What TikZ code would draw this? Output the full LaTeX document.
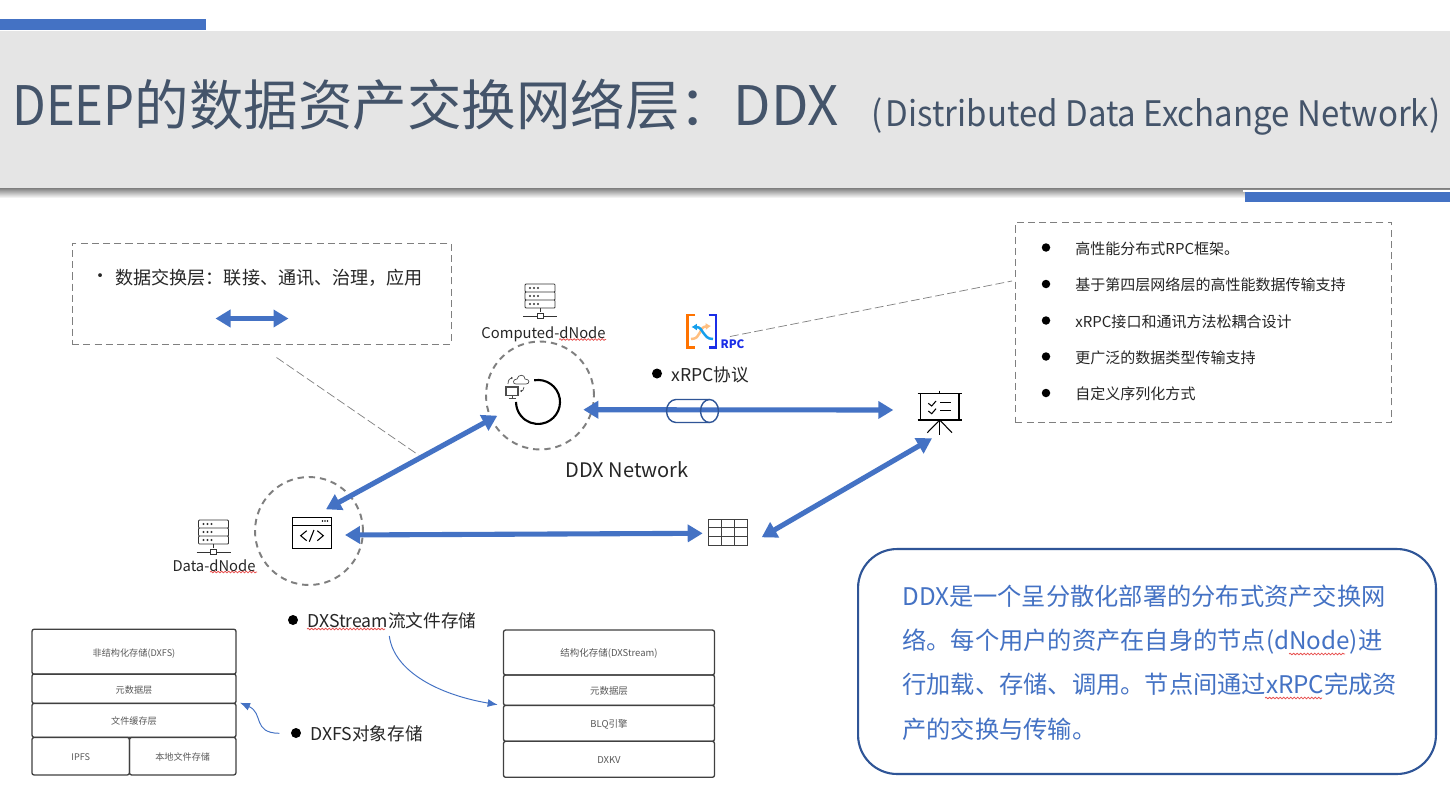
\documentclass[tikz,border=0pt]{standalone}
\usepackage{fontspec}
\setmainfont{Noto Sans CJK SC}
\usepackage{xcolor}
\usetikzlibrary{positioning,calc,arrows.meta,decorations.pathmorphing}

\definecolor{slidebar}{HTML}{4472C4}
\definecolor{darkbar}{HTML}{2F5597}
\definecolor{titleink}{HTML}{44546A}
\definecolor{bandgrey}{HTML}{E5E5E5}
\definecolor{boxgrey}{HTML}{7F7F7F}
\definecolor{wavyred}{HTML}{E8504F}

\tikzset{
  dashbox/.style={draw=boxgrey,dashed,line width=0.5pt,dash pattern=on 4pt off 2.4pt},
  leader/.style={draw=boxgrey,line width=0.4pt,dash pattern=on 5pt off 2pt},
  nodering/.style={draw=boxgrey,circle,line width=1.1pt,dash pattern=on 3.6pt off 2.8pt,minimum size=2.16cm,inner sep=0pt},
  bigarrow/.style={draw=slidebar,line width=2.9pt,{Triangle[length=0.3cm,width=0.34cm]}-{Triangle[length=0.3cm,width=0.34cm]}},
  thinarrow/.style={draw=slidebar,line width=0.55pt,-{Latex[length=0.2cm,width=0.16cm]}},
  stackrow/.style={draw=black!75,rounded corners=1.2pt,line width=0.75pt,inner sep=0pt,text=black!65,text height=5pt,text depth=0pt,font=\fontsize{5.4}{7}\selectfont},
  fsrow/.style={stackrow,font=\fontsize{5.2}{7}\selectfont},
  bulletdot/.style={circle,fill=black,inner sep=0pt,minimum size=0.2cm},
  listdot/.style={circle,fill=black,inner sep=0pt,minimum size=0.17cm},
  listtext/.style={anchor=west,inner sep=0pt,text=black!85,font=\fontsize{8.55}{10}\selectfont},
  notetext/.style={anchor=west,inner sep=0pt,text=black!85,font=\fontsize{10.3}{12}\selectfont},
  sidetext/.style={anchor=west,inner sep=0pt,text=black!85,font=\fontsize{10.05}{12}\selectfont},
  icontext/.style={inner sep=0pt,text=black!85,font=\fontsize{8.4}{10}\selectfont},
  wavy/.style={draw=wavyred,line width=0.45pt,decorate,decoration={snake,amplitude=0.45pt,segment length=2pt}},
  servericon/.pic={
    \draw[black!80,line width=0.5pt,rounded corners=0.5pt] (-15,-24) rectangle (15,-16) (-15,-16) rectangle (15,-8) (-15,-8) rectangle (15,0);
    \draw[black!80,line width=0.5pt] (0,0) -- (0,4) (-17,8) -- (-3,8) (3,8) -- (17,8);
    \draw[black!80,line width=0.5pt] (-3,5) rectangle (3,10);
    \foreach \ry in {-20,-12,-4} {
      \foreach \rx in {-10,-6,-2} { \fill[black!80] (\rx,\ry) circle (0.6pt); }
    }
  }
}

\begin{document}
\begin{tikzpicture}[x=0.02cm,y=-0.02cm]
    \useasboundingbox (0,0) rectangle (1450,788);
    \fill[white] (0,0) rectangle (1450,788);

    % Title band
    \shade[top color=black!55,bottom color=white] (0,187) rectangle (1450,198);
    \fill[bandgrey] (0,31) rectangle (1450,188);
    \fill[slidebar] (0,19) rectangle (206,30);
    \fill[white] (1243,190) rectangle (1450,192);
    \fill[slidebar] (1245,192) rectangle (1450,202);
    \node[anchor=west,inner sep=0pt,text=titleink,font=\fontsize{31}{36}\selectfont] (titlemain) at (12,105) {\scalebox{0.9}[1]{DEEP}的数据资产交换网络层：DDX};
    \node[anchor=west,inner sep=0pt,text=titleink,font=\fontsize{20}{24}\selectfont] (titlesub) at (871,117) {\scalebox{0.94}[1]{(\hspace{0.1em}Distributed Data Exchange Network)}};

    % Left note
    \node[dashbox,minimum width=7.58cm,minimum height=2.02cm] (notebox) at (261.5,293.5) {};
    \node[notetext] (notedot) at (91,278) {•};
    \node[notetext] (notetext) at (115,278) {数据交换层：联接、通讯、治理，应用};
    \coordinate (noteL) at (215.5,318.5);
    \coordinate (noteR) at (288.5,318.5);
    \draw[bigarrow] (noteL) -- (noteR);
    \coordinate (leaderA) at (276.5,357.5);
    \coordinate (leaderB) at (418.5,455);
    \draw[leader] (leaderA) -- (leaderB);

    % Right list
    \node[dashbox,minimum width=7.53cm,minimum height=4cm] (listbox) at (1203.5,322.5) {};
    \node[listdot] (dot1) at (1046,247.5) {};
    \node[listdot] (dot2) at (1046,284) {};
    \node[listdot] (dot3) at (1046,320.5) {};
    \node[listdot] (dot4) at (1046,356.5) {};
    \node[listdot] (dot5) at (1046,393) {};
    \node[listtext] (item1) at (1075,248.5) {高性能分布式RPC框架。};
    \node[listtext] (item2) at (1075,284.5) {基于第四层网络层的高性能数据传输支持};
    \node[listtext] (item3) at (1075,321.5) {xRPC接口和通讯方法松耦合设计};
    \node[listtext] (item4) at (1075,357.5) {更广泛的数据类型传输支持};
    \node[listtext] (item5) at (1075,393.5) {自定义序列化方式};

    % Computed dNode
    \node[nodering] (computed) at (540,395.5) {};
    \pic at (540,308) {servericon};
    \node[icontext] (computedlabel) at (543.5,334) {Computed-dNode};
    \coordinate (wavyA) at (559,339.5);
    \coordinate (wavyB) at (606,339.5);
    \draw[wavy] (wavyA) -- (wavyB);
    \draw[black,line width=1.2pt] (534.2,380.3) arc[start angle=100,end angle=-180,radius=0.44cm];
    % small monitor and cloud
    \draw[black!70,line width=0.7pt] (506,387) rectangle (518,395.5);
    \draw[black!70,line width=0.5pt] (512,395.5) -- (512,398) (508.5,398) -- (515.5,398);
    \draw[black!70,line width=0.4pt] (516,384) .. controls (512,384) and (513,379) .. (517,379) .. controls (518,374) and (525,374) .. (525,379) .. controls (530,379) and (530,384) .. (526,384) -- cycle;
    \draw[black!70,line width=0.4pt,-{Latex[length=1pt,width=1.4pt]}] (508,384) .. controls (508,380) and (510,378) .. (513,378);
    \draw[black!70,line width=0.4pt,-{Latex[length=1pt,width=1.4pt]}] (524,387) .. controls (524,390) and (522,391) .. (520,391);

    % Data dNode
    \node[nodering] (datanode) at (309,531) {};
    \pic at (213.5,544) {servericon};
    \node[icontext] (datalabel) at (214,566) {Data-dNode};
    \coordinate (wavyC) at (210,572);
    \coordinate (wavyD) at (257,572);
    \draw[wavy] (wavyC) -- (wavyD);
    \node[draw=black,line width=0.8pt,minimum width=0.78cm,minimum height=0.62cm,inner sep=0pt] (codeicon) at (312,533) {};
    \draw[black,line width=0.5pt] (292.5,525) -- (331.5,525);
    \fill[black] (322.5,521) circle (0.5pt) (325,521) circle (0.5pt) (327.5,521) circle (0.5pt);
    \draw[black,line width=0.6pt] (306.7,530.7) -- (300.7,535.7) -- (306.7,540.7);
    \draw[black,line width=0.6pt] (314,530) -- (309.3,541.7);
    \draw[black,line width=0.6pt] (317.3,530.7) -- (323.3,535.7) -- (317.3,540.7);

    % RPC logo
    \draw[draw=orange!90!red,line width=1.5pt] (695,315) -- (687.5,315) -- (687.5,347.5) -- (695,347.5);
    \draw[draw=blue!60!slidebar,line width=1.5pt] (708.5,315) -- (716,315) -- (716,347.5) -- (708.5,347.5);
    \draw[draw=orange!50,line width=1.4pt,-{Latex[length=3pt,width=4pt]}] (691,339) .. controls (702,339) and (698,327) .. (711,326);
    \draw[draw=blue!30!cyan!70!slidebar,line width=1.4pt,-{Latex[length=3pt,width=4pt]}] (713,339) .. controls (702,339) and (704,327) .. (691.5,327);
    \node[inner sep=0pt,text=blue!60!slidebar,font=\fontsize{6.6}{8}\bfseries\selectfont] (rpcmark) at (732.5,344.5) {RPC};
    \coordinate (rpcleaderA) at (730,336.5);
    \coordinate (rpcleaderB) at (1012,281);
    \draw[leader] (rpcleaderA) -- (rpcleaderB);

    % xRPC
    \node[bulletdot] (xrpcdot) at (657,373.5) {};
    \node[sidetext] (xrpclabel) at (671,375) {xRPC协议};
    \node[inner sep=0pt,text=black!85,font=\fontsize{11.4}{14}\selectfont] (ddxlabel) at (627,470) {DDX Network};

    % Board icon
    \node[draw=none,minimum width=0.78cm,minimum height=0.52cm,inner sep=0pt] (boardicon) at (940,407) {};
    \draw[black,line width=0.6pt] (917.5,393.7) -- (962,393.7) (917.5,420) -- (962,420);
    \draw[black,line width=0.6pt] (920.7,393.7) -- (920.7,420) (959,393.7) -- (959,420);
    \draw[black,line width=0.6pt] (939.7,390.5) -- (939.7,393.7) (939.7,420) -- (939.7,435);
    \draw[black,line width=0.6pt] (927.3,432.7) -- (939.7,420) -- (952,432.7);
    \draw[black,line width=0.6pt] (928.3,403.3) -- (931.7,406) -- (936,401) (928.3,411) -- (931.7,413.7) -- (936,408.7);
    \draw[black,line width=0.6pt] (940,402.7) -- (950.7,402.7) (940,410.7) -- (950.7,410.7);

    % Table icon
    \node[draw=black!75,line width=0.7pt,minimum width=0.79cm,minimum height=0.53cm,inner sep=0pt] (tableicon) at (728,532.5) {};
    \draw[black!75,line width=0.6pt] (721.5,519.5) -- (721.5,545.5) (734.5,519.5) -- (734.5,545.5);
    \draw[black!75,line width=0.6pt] (708.5,527.5) -- (747.5,527.5) (708.5,536.7) -- (747.5,536.7);

    % Cable on the xRPC link
    \coordinate (computedE) at (583.3,409.7);
    \coordinate (boardW) at (893.3,410);
    \draw[bigarrow] (computedE) -- (boardW);
    \draw[draw=darkbar,line width=0.8pt] (709.5,399.5) -- (676,399.5) arc[start angle=90,end angle=270,x radius=0.19cm,y radius=0.23cm] -- (709.5,422.5);
    \draw[draw=darkbar,line width=0.8pt] (709.5,411) ellipse[x radius=0.18cm,y radius=0.23cm];

    % Links
    \coordinate (dataNE) at (326,509.3);
    \coordinate (computedSW) at (497.3,415.7);
    \draw[bigarrow] (dataNE) -- (computedSW);
    \coordinate (dataE) at (345,535);
    \coordinate (tableW) at (702.7,533.3);
    \draw[bigarrow] (dataE) -- (tableW);
    \coordinate (tableE) at (761.7,537.3);
    \coordinate (boardS) at (932,438.3);
    \draw[bigarrow] (tableE) -- (boardS);

    % DXFS stack
    \node[fsrow,minimum width=4.08cm,minimum height=0.9cm] (fsa) at (134,651.7) {非结构化存储(DXFS)};
    \node[fsrow,minimum width=4.08cm,minimum height=0.59cm] (fsb) at (134,688.7) {元数据层};
    \node[fsrow,minimum width=4.08cm,minimum height=0.68cm] (fsc) at (134,720.3) {文件缓存层};
    \node[fsrow,minimum width=1.95cm,minimum height=0.75cm] (fsd) at (80.7,756.2) {IPFS};
    \node[fsrow,minimum width=2.13cm,minimum height=0.75cm] (fse) at (182.7,756.2) {本地文件存储};

    % DXStream stack
    \node[stackrow,minimum width=4.22cm,minimum height=0.9cm] (dsa) at (609,652.5) {结构化存储(DXStream)};
    \node[stackrow,minimum width=4.22cm,minimum height=0.61cm] (dsb) at (609,690.2) {元数据层};
    \node[stackrow,minimum width=4.22cm,minimum height=0.72cm] (dsc) at (609,723.3) {BLQ引擎};
    \node[stackrow,minimum width=4.22cm,minimum height=0.72cm] (dsd) at (609,759.3) {DXKV};

    % Stream and object labels
    \node[bulletdot] (streamdot) at (293,620) {};
    \node[sidetext] (streamlabel) at (307,621) {DXStream流文件存储};
    \coordinate (wavyE) at (307,629);
    \coordinate (wavyF) at (385,629);
    \draw[wavy] (wavyE) -- (wavyF);
    \node[bulletdot] (objectdot) at (296,733) {};
    \node[sidetext] (objectlabel) at (310,734) {DXFS对象存储};
    \coordinate (streamfrom) at (389.3,636);
    \coordinate (streamto) at (497.7,704.7);
    \draw[thinarrow] (streamfrom) .. controls (394,672) and (440,695) .. (streamto);
    \coordinate (objectfrom) at (279.3,733.3);
    \coordinate (objectto) at (240,702.7);
    \draw[thinarrow] (objectfrom) .. controls (252,733) and (264,713) .. (objectto);

    % Summary box
    \node[draw=darkbar,line width=1.2pt,rounded corners=0.78cm,minimum width=11.56cm,minimum height=4.5cm] (summary) at (1147,661.5) {};
    \node[anchor=north west,inner sep=0pt,align=left,text=slidebar,font=\fontsize{13.8}{25.2}\selectfont] (summarytext) at (902,584.5) {DDX是一个呈分散化部署的分布式资产交换网\\络。每个用户的资产在自身的节点(dNode)进\\行加载、存储、调用。节点间通过xRPC完成资\\产的交换与传输。};
    \coordinate (wavyG) at (1289,654);
    \coordinate (wavyH) at (1345,654);
    \draw[wavy] (wavyG) -- (wavyH);
    \coordinate (wavyI) at (1265,698);
    \coordinate (wavyJ) at (1322,698);
    \draw[wavy] (wavyI) -- (wavyJ);
\end{tikzpicture}
\end{document}
